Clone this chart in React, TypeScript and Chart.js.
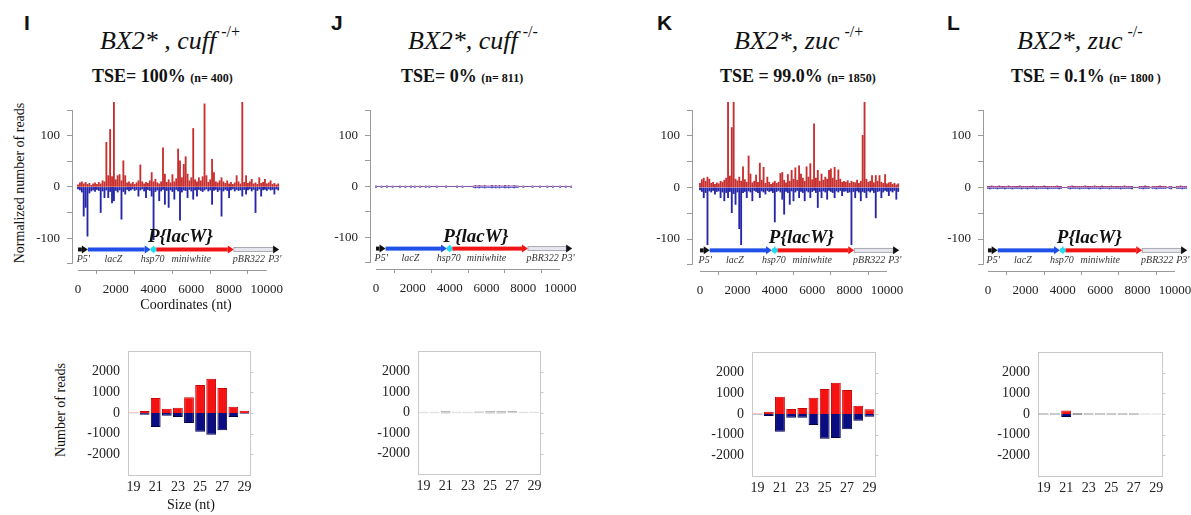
import React, { useEffect, useRef } from 'react';
import { Chart, registerables } from 'chart.js';

Chart.register(...registerables);

const SERIF = '"Liberation Serif", "Times New Roman", serif';
const SANS = '"Liberation Sans", Arial, sans-serif';

// ---------- shared axis data ----------
const BIN_NT = 100; // coverage bin size (nt)
const coordTicks = [0, 2000, 4000, 6000, 8000, 10000];
const coverageTicks = [-150, -100, -50, 0, 50, 100, 150];
const sizeLabels = ['19', '20', '21', '22', '23', '24', '25', '26', '27', '28', '29'];
const readTicks = [-2000, -1000, 0, 1000, 2000];

// ---------- P{lacW} construct map (nt) ----------
const featureStart = [0, 520, 3850, 4150, 8250];
const featureEnd = [520, 3850, 4150, 8250, 10650];
const featureLabels = ["P5'", 'lacZ', 'hsp70', 'miniwhite', 'pBR322', "P3'"];
const featureLabelAt = [280, 1870, 3950, 6000, 9050, 10420];
const constructName = 'P{lacW}';
const constructNameAt = 5420;

// ---------- coverage (normalized reads per 100-nt bin) ----------
const iPlus = [
  4, 8, 10, 6, 9, 5, 7, 3, 6, 8,
  5, 9, 6, 12, 10, 87, 22, 112, 20, 165,
  14, 22, 24, 12, 51, 22, 8, 10, 6, 9,
  5, 8, 12, 43, 10, 6, 9, 7, 12, 28,
  10, 15, 8, 6, 10, 76, 25, 9, 14, 8,
  24, 10, 16, 74, 51, 18, 44, 59, 25, 12,
  18, 114, 14, 10, 18, 12, 20, 162, 22, 9,
  14, 54, 28, 10, 8, 12, 18, 10, 7, 12,
  6, 9, 5, 8, 22, 10, 6, 165, 9, 22,
  7, 10, 15, 6, 8, 5, 18, 7, 9, 15,
  6, 8, 12, 5, 7, 4, 6,
];
const iMinus = [
  -4, -6, -10, -57, -40, -96, -12, -8, -6, -9,
  -5, -7, -50, -8, -21, -6, -21, -9, -31, -27,
  -7, -10, -6, -63, -9, -14, -5, -8, -6, -4,
  -7, -5, -18, -6, -4, -8, -21, -5, -7, -18,
  -103, -9, -6, -27, -8, -5, -34, -7, -40, -6,
  -9, -24, -5, -8, -65, -10, -6, -7, -21, -5,
  -8, -24, -6, -18, -5, -7, -9, -6, -4, -8,
  -6, -34, -7, -5, -9, -6, -57, -8, -5, -7,
  -21, -6, -4, -8, -5, -7, -6, -18, -5, -14,
  -6, -4, -8, -5, -50, -7, -4, -18, -6, -5,
  -7, -4, -6, -5, -14, -4, -6,
];
const jPlus = [
  1, 0, 0, 1, 0, 0, 1, 0, 0, 1,
  0, 0, 0, 1, 0, 0, 1, 0, 0, 1,
  0, 1, 0, 0, 1, 0, 0, 1, 0, 1,
  0, 0, 0, 1, 0, 0, 0, 0, 1, 0,
  0, 0, 0, 0, 1, 0, 0, 1, 0, 0,
  0, 0, 0, 1, 2, 1, 2, 1, 1, 2,
  1, 1, 1, 2, 1, 2, 1, 2, 1, 1,
  2, 1, 2, 1, 1, 2, 1, 1, 0, 0,
  1, 0, 0, 0, 0, 1, 0, 0, 0, 1,
  0, 0, 0, 1, 0, 0, 1, 0, 0, 0,
  1, 0, 0, 1, 0, 0, 1,
];
const jMinus = [
  -2, 0, 0, -2, 0, 0, -2, 0, 0, -2,
  0, 0, 0, -2, 0, 0, -2, 0, 0, -2,
  0, -2, 0, 0, -2, 0, 0, -2, 0, -2,
  0, 0, 0, -2, 0, 0, 0, 0, -2, 0,
  0, 0, 0, 0, -2, 0, 0, -2, 0, 0,
  0, 0, 0, -2, -3, -2, -3, -2, -2, -3,
  -2, -2, -2, -3, -2, -3, -2, -3, -2, -2,
  -3, -2, -3, -2, -2, -3, -2, -2, 0, 0,
  -2, 0, 0, 0, 0, -2, 0, 0, 0, -2,
  0, 0, 0, -2, 0, 0, -2, 0, 0, 0,
  -2, 0, 0, -2, 0, 0, -2,
];
const kPlus = [
  8, 15, 18, 12, 20, 16, 8, 10, 6, 9,
  7, 12, 10, 14, 18, 165, 22, 116, 165, 16,
  13, 20, 12, 40, 15, 10, 61, 26, 9, 12,
  24, 10, 47, 14, 39, 8, 20, 10, 6, 9,
  12, 8, 10, 27, 29, 14, 9, 25, 12, 33,
  16, 38, 14, 42, 26, 18, 12, 40, 20, 46,
  15, 123, 18, 33, 12, 26, 14, 20, 16, 33,
  36, 18, 39, 14, 34, 16, 10, 12, 10, 13,
  8, 12, 10, 9, 14, 8, 12, 101, 165, 16,
  10, 12, 23, 9, 23, 12, 23, 10, 8, 25,
  7, 9, 10, 6, 8, 5, 7,
];
const kMinus = [
  -5, -8, -20, -10, -111, -7, -9, -6, -13, -8,
  -7, -20, -9, -26, -10, -20, -8, -49, -12, -33,
  -9, -80, -111, -10, -8, -20, -7, -9, -26, -6,
  -8, -10, -20, -7, -9, -13, -6, -8, -7, -10,
  -67, -8, -6, -9, -23, -52, -8, -10, -33, -7,
  -26, -9, -6, -20, -8, -10, -26, -7, -9, -20,
  -8, -6, -10, -39, -8, -20, -7, -9, -23, -6,
  -8, -10, -20, -7, -9, -6, -16, -8, -7, -10,
  -9, -111, -8, -20, -7, -9, -26, -8, -10, -20,
  -7, -9, -6, -10, -59, -8, -7, -20, -9, -6,
  -8, -16, -7, -9, -6, -23, -8,
];
const lPlus = [
  2, 2, 3, 2, 2, 2, 3, 2, 2, 2,
  2, 3, 2, 2, 2, 2, 2, 3, 2, 2,
  2, 2, 2, 2, 3, 2, 2, 2, 2, 2,
  3, 2, 2, 2, 2, 2, 2, 3, 2, 2,
  0, 0, 0, 2, 2, 3, 2, 2, 2, 2,
  2, 2, 3, 2, 2, 2, 2, 3, 2, 2,
  2, 3, 2, 2, 2, 2, 3, 2, 2, 2,
  2, 2, 2, 3, 2, 2, 2, 2, 0, 0,
  0, 2, 2, 2, 3, 2, 2, 0, 2, 2,
  2, 2, 3, 2, 2, 2, 0, 2, 2, 0,
  0, 2, 2, 3, 2, 2, 2,
];
const lMinus = [
  -2, -3, -2, -2, -2, -3, -2, -2, -2, -3,
  -2, -2, -2, -3, -2, -2, -2, -2, -3, -2,
  -2, -3, -2, -2, -2, -2, -3, -2, -2, -2,
  -2, -2, -3, -2, -2, -2, -2, -2, -3, -2,
  0, 0, 0, -2, -3, -2, -2, -2, -2, -3,
  -2, -2, -2, -2, -3, -2, -2, -2, -2, -2,
  -3, -2, -2, -2, -2, -3, -2, -2, -2, -2,
  -2, -3, -2, -2, -2, -2, -2, -3, 0, 0,
  0, -2, -2, -3, -2, -2, -2, 0, -2, -2,
  -3, -2, -2, -2, -2, -2, 0, -2, -3, 0,
  0, -2, -2, -2, -3, -2, -2,
];

// ---------- small RNA size distribution (number of reads) ----------
const iSizePlus = [25, 97, 726, 210, 258, 758, 1355, 1661, 1210, 306, 110];
const iSizeMinus = [-12, -80, -677, -130, -194, -484, -903, -1048, -839, -194, -32];
const jSizePlus = [40, 40, 60, 40, 40, 50, 60, 60, 55, 40, 35];
const jSizeMinus = [-35, -35, -45, -35, -35, -40, -45, -45, -40, -35, -30];
const kSizePlus = [30, 113, 839, 242, 290, 790, 1210, 1516, 1161, 403, 226];
const kSizeMinus = [-20, -97, -855, -177, -177, -532, -1194, -1161, -742, -323, -129];
const lSizePlus = [40, 40, 170, 50, 40, 40, 40, 40, 40, 30, 30];
const lSizeMinus = [-35, -35, -150, -45, -35, -35, -35, -35, -35, -25, -25];

// ---------- styles & layout ----------
const featureFill = ['#111111', '#1f50e8', '#20dcef', '#f01414', '#e6e6ee'];
const featureHeadFill = ['#111111', '#1f50e8', null, '#f01414', '#111111'];
const featureOutline = [null, null, null, null, '#9a9aa6'];
const ARROW_Y = -122;
const Y_MIN = -162;
const X_MAX = 10750;

const COV_PAD_T = 20, COV_PAD_R = 26, COV_Y_W = 45, COV_X_H = 34;
const BAR_PAD_T = 22, BAR_PAD_R = 16, BAR_Y_W = 52, BAR_X_H = 26;

const RED = '#f51212', RED_B = '#c80000', BLUE = '#0a0c82', BLUE_B = '#00004a';
const GRAY = '#a3a3a3', GRAY_D = '#858585', GRAY_L = '#c8c8c8';

const panels = [
  {
    key: 'I', plus: iPlus, minus: iMinus, plusColor: '#c83030', minusColor: '#2626a8',
    cov: { l: 72, t: 110, r: 281, b: 270, xMin: -320 },
    bar: { l: 128, t: 351, r: 250, b: 475 },
    sPlus: iSizePlus, sMinus: iSizeMinus,
    sPlusColor: RED, sPlusBorder: RED_B, sMinusColor: BLUE, sMinusBorder: BLUE_B,
  },
  {
    key: 'J', plus: jPlus, minus: jMinus, plusColor: '#8a3a8a', minusColor: '#4040c0',
    cov: { l: 370, t: 110, r: 574, b: 269, xMin: -326 },
    bar: { l: 418, t: 351, r: 540, b: 474 },
    sPlus: jSizePlus, sMinus: jSizeMinus,
    sPlusColor: [GRAY_L, GRAY_L, GRAY, GRAY_L, GRAY_L, GRAY, GRAY, GRAY, GRAY, GRAY_L, GRAY_L],
    sPlusBorder: [GRAY, GRAY, GRAY_D, GRAY, GRAY, GRAY_D, GRAY_D, GRAY_D, GRAY_D, GRAY, GRAY],
    sMinusColor: [GRAY_L, GRAY_L, GRAY, GRAY_L, GRAY_L, GRAY, GRAY, GRAY, GRAY, GRAY_L, GRAY_L],
    sMinusBorder: [GRAY, GRAY, GRAY_D, GRAY, GRAY, GRAY_D, GRAY_D, GRAY_D, GRAY_D, GRAY, GRAY],
  },
  {
    key: 'K', plus: kPlus, minus: kMinus, plusColor: '#c83030', minusColor: '#2626a8',
    cov: { l: 692, t: 110, r: 901, b: 271, xMin: -428 },
    bar: { l: 752, t: 352, r: 875, b: 476 },
    sPlus: kSizePlus, sMinus: kSizeMinus,
    sPlusColor: RED, sPlusBorder: RED_B, sMinusColor: BLUE, sMinusBorder: BLUE_B,
  },
  {
    key: 'L', plus: lPlus, minus: lMinus, plusColor: '#a03070', minusColor: '#3535b8',
    cov: { l: 983, t: 110, r: 1189, b: 271, xMin: -267 },
    bar: { l: 1038, t: 352, r: 1162, b: 476 },
    sPlus: lSizePlus, sMinus: lSizeMinus,
    sPlusColor: [GRAY, GRAY, RED, GRAY_D, GRAY, GRAY, GRAY, GRAY, GRAY, GRAY_L, GRAY_L],
    sPlusBorder: [GRAY_D, GRAY_D, RED_B, GRAY_D, GRAY_D, GRAY_D, GRAY_D, GRAY_D, GRAY_D, GRAY, GRAY],
    sMinusColor: [GRAY, GRAY, BLUE, GRAY_D, GRAY, GRAY, GRAY, GRAY, GRAY, GRAY_L, GRAY_L],
    sMinusBorder: [GRAY_D, GRAY_D, BLUE_B, GRAY_D, GRAY_D, GRAY_D, GRAY_D, GRAY_D, GRAY_D, GRAY, GRAY],
  },
];

// ---------- plugins ----------
const schematicPlugin = {
  id: 'schematic',
  afterDatasetsDraw(chart: any) {
    const { ctx, chartArea } = chart;
    const x = chart.scales.x;
    const y = chart.scales.y;
    ctx.save();
    ctx.strokeStyle = '#9a9a9a';
    ctx.lineWidth = 1;
    ctx.beginPath();
    const ax = Math.round(chartArea.left) + 0.5;
    ctx.moveTo(ax, y.getPixelForValue(coverageTicks[coverageTicks.length - 1]));
    ctx.lineTo(ax, y.getPixelForValue(coverageTicks[0]));
    const by = Math.round(chartArea.bottom) + 0.5;
    ctx.moveTo(x.getPixelForValue(coordTicks[0]), by);
    ctx.lineTo(x.getPixelForValue(coordTicks[coordTicks.length - 1]), by);
    ctx.stroke();

    const yy = y.getPixelForValue(ARROW_Y);
    const H = 2, HL = 6, HH = 4;
    for (let i = 0; i < featureStart.length; i++) {
      const a = x.getPixelForValue(featureStart[i]);
      const b = x.getPixelForValue(featureEnd[i]);
      const head = featureHeadFill[i];
      const se = head ? b - HL : b;
      ctx.fillStyle = featureFill[i];
      ctx.fillRect(a, yy - H, se - a, 2 * H);
      if (featureOutline[i]) {
        ctx.strokeStyle = featureOutline[i];
        ctx.lineWidth = 0.8;
        ctx.strokeRect(a, yy - H, se - a, 2 * H);
      }
      if (head) {
        ctx.fillStyle = head;
        ctx.beginPath();
        ctx.moveTo(se, yy - HH);
        ctx.lineTo(b, yy);
        ctx.lineTo(se, yy + HH);
        ctx.closePath();
        ctx.fill();
      } else {
        ctx.beginPath();
        ctx.moveTo(a, yy);
        ctx.lineTo((a + b) / 2, yy - HH);
        ctx.lineTo(b, yy);
        ctx.lineTo((a + b) / 2, yy + HH);
        ctx.closePath();
        ctx.fill();
      }
    }
    ctx.fillStyle = '#333';
    ctx.font = `italic 10px ${SERIF}`;
    ctx.textAlign = 'center';
    ctx.textBaseline = 'middle';
    featureLabels.forEach((t, i) => ctx.fillText(t, x.getPixelForValue(featureLabelAt[i]), yy + 10));
    ctx.fillStyle = '#111';
    ctx.font = `bold italic 19px ${SERIF}`;
    ctx.textBaseline = 'alphabetic';
    ctx.fillText(constructName, x.getPixelForValue(constructNameAt), yy - 7);
    ctx.restore();
  },
};

const boxPlugin = {
  id: 'box',
  beforeDatasetsDraw(chart: any) {
    const { ctx, chartArea } = chart;
    const y = chart.scales.y;
    ctx.save();
    ctx.strokeStyle = '#c9c9c9';
    ctx.lineWidth = 1;
    const l = Math.round(chartArea.left) + 0.5, r = Math.round(chartArea.right) + 0.5;
    const t = Math.round(chartArea.top) + 0.5, b = Math.round(chartArea.bottom) + 0.5;
    ctx.strokeRect(l, t, r - l, b - t);
    ctx.beginPath();
    readTicks.forEach((v) => {
      const py = Math.round(y.getPixelForValue(v)) + 0.5;
      ctx.moveTo(r, py);
      ctx.lineTo(r + 3, py);
    });
    ctx.stroke();
    ctx.restore();
  },
};

// ---------- chart builders ----------
function coverageConfig(p: any) {
  const pts = (arr: number[]) => arr.map((v, i) => ({ x: i * BIN_NT, y: v }));
  return {
    type: 'bar',
    data: {
      datasets: [
        { data: pts(p.plus), backgroundColor: p.plusColor, barThickness: 1.2, grouped: false, clip: false },
        { data: pts(p.minus), backgroundColor: p.minusColor, barThickness: 1.2, grouped: false, clip: false },
      ],
    },
    options: {
      animation: false,
      responsive: false,
      events: [],
      layout: { padding: { top: COV_PAD_T, right: COV_PAD_R, left: 0, bottom: 0 } },
      plugins: { legend: { display: false }, tooltip: { enabled: false } },
      scales: {
        x: {
          type: 'linear',
          min: p.cov.xMin,
          max: X_MAX,
          offset: false,
          afterBuildTicks: (s: any) => { s.ticks = coordTicks.map((v) => ({ value: v })); },
          afterFit: (s: any) => { s.height = COV_X_H; },
          grid: { display: true, drawOnChartArea: false, drawTicks: true, tickLength: 4, color: '#9a9a9a' },
          border: { display: false },
          ticks: {
            autoSkip: false, maxRotation: 0, padding: 8, color: '#222',
            font: { family: SERIF, size: 13 },
            callback: (v: any) => String(v),
          },
        },
        y: {
          min: Y_MIN,
          max: 150,
          afterBuildTicks: (s: any) => { s.ticks = coverageTicks.map((v) => ({ value: v })); },
          afterFit: (s: any) => { s.width = COV_Y_W; },
          grid: { display: true, drawOnChartArea: false, drawTicks: true, tickLength: 5, color: '#9a9a9a' },
          border: { display: false },
          ticks: {
            autoSkip: false, padding: 7, color: '#222',
            font: { family: SERIF, size: 13 },
            callback: (v: any) => (Number(v) % 100 === 0 ? String(v) : ''),
          },
        },
      },
    },
    plugins: [schematicPlugin],
  };
}

function sizeConfig(p: any) {
  return {
    type: 'bar',
    data: {
      labels: sizeLabels,
      datasets: [
        { data: p.sPlus, backgroundColor: p.sPlusColor, borderColor: p.sPlusBorder, borderWidth: 1, barPercentage: 0.88, categoryPercentage: 1 },
        { data: p.sMinus, backgroundColor: p.sMinusColor, borderColor: p.sMinusBorder, borderWidth: 1, barPercentage: 0.88, categoryPercentage: 1 },
      ],
    },
    options: {
      animation: false,
      responsive: false,
      events: [],
      layout: { padding: { top: BAR_PAD_T, right: BAR_PAD_R, left: 0, bottom: 0 } },
      plugins: { legend: { display: false }, tooltip: { enabled: false } },
      scales: {
        x: {
          stacked: true,
          afterFit: (s: any) => { s.height = BAR_X_H; },
          grid: { display: false, drawTicks: false, tickLength: 0 },
          border: { display: false },
          ticks: {
            autoSkip: false, maxRotation: 0, padding: 4, color: '#222',
            font: { family: SERIF, size: 14 },
            callback: (_v: any, i: number) => (i % 2 === 0 ? sizeLabels[i] : ''),
          },
        },
        y: {
          stacked: true,
          min: -3000,
          max: 3000,
          afterBuildTicks: (s: any) => { s.ticks = readTicks.map((v) => ({ value: v })); },
          afterFit: (s: any) => { s.width = BAR_Y_W; },
          grid: { display: false, drawTicks: false, tickLength: 0 },
          border: { display: false },
          ticks: {
            autoSkip: false, padding: 8, color: '#222',
            font: { family: SERIF, size: 14 },
            callback: (v: any) => String(v),
          },
        },
      },
    },
    plugins: [boxPlugin],
  };
}

function ChartCanvas({ x, y, w, h, make }: any) {
  const ref = useRef<HTMLCanvasElement | null>(null);
  useEffect(() => {
    const chart = new Chart(ref.current as any, make() as any);
    return () => chart.destroy();
  }, []);
  return (
    <canvas
      ref={ref}
      width={w}
      height={h}
      style={{ position: 'absolute', left: x, top: y, width: w, height: h }}
    />
  );
}

function Txt({ x, y, size, children, style }: any) {
  return (
    <div
      style={{
        position: 'absolute', left: x, top: y, fontSize: size, lineHeight: 1,
        fontFamily: SERIF, whiteSpace: 'nowrap', color: '#111', ...style,
      }}
    >
      {children}
    </div>
  );
}

const titles = [
  { letter: 'I', lx: 24, main: 'BX2* , cuff', sup: '-/+', tx: 100, tse: 'TSE= 100%', n: '(n= 400)', sx: 92 },
  { letter: 'J', lx: 331, main: 'BX2*, cuff', sup: '-/-', tx: 408, tse: 'TSE= 0%', n: '(n= 811)', sx: 401 },
  { letter: 'K', lx: 657, main: 'BX2*, zuc', sup: '-/+', tx: 734, tse: 'TSE = 99.0%', n: ' (n= 1850)', sx: 720 },
  { letter: 'L', lx: 947, main: 'BX2*, zuc', sup: '-/-', tx: 1017, tse: 'TSE = 0.1%', n: '(n= 1800 )', sx: 1011 },
];

export default function App() {
  return (
    <div
      style={{
        position: 'absolute', left: 0, top: 0, width: 1191, height: 515,
        overflow: 'hidden', background: '#fff',
      }}
    >
      {titles.map((t) => (
        <React.Fragment key={t.letter}>
          <Txt x={t.lx} y={12} size={21} style={{ fontFamily: SANS, fontWeight: 'bold' }}>{t.letter}</Txt>
          <Txt x={t.tx} y={28} size={26} style={{ fontStyle: 'italic' }}>
            {t.main}
            <span style={{ fontSize: 16, fontStyle: 'normal', position: 'relative', top: -12, marginLeft: 5 }}>{t.sup}</span>
          </Txt>
          <Txt x={t.sx} y={67} size={18} style={{ fontWeight: 'bold' }}>
            {t.tse}{' '}
            <span style={{ fontSize: 12 }}>{t.n}</span>
          </Txt>
        </React.Fragment>
      ))}

      {panels.map((p) => {
        const c = p.cov;
        const b = p.bar;
        return (
          <React.Fragment key={p.key}>
            <ChartCanvas
              x={c.l - COV_Y_W}
              y={c.t - COV_PAD_T}
              w={COV_Y_W + (c.r - c.l) + COV_PAD_R}
              h={COV_PAD_T + (c.b - c.t) + COV_X_H}
              make={() => coverageConfig(p)}
            />
            <ChartCanvas
              x={b.l - BAR_Y_W}
              y={b.t - BAR_PAD_T}
              w={BAR_Y_W + (b.r - b.l) + BAR_PAD_R}
              h={BAR_PAD_T + (b.b - b.t) + BAR_X_H}
              make={() => sizeConfig(p)}
            />
          </React.Fragment>
        );
      })}

      <Txt x={20} y={183} size={14} style={{ transform: 'translate(-50%, -50%) rotate(-90deg)' }}>Normalized number of reads</Txt>
      <Txt x={186} y={305} size={14} style={{ transform: 'translate(-50%, -50%)' }}>Coordinates (nt)</Txt>
      <Txt x={61} y={410} size={14} style={{ transform: 'translate(-50%, -50%) rotate(-90deg)' }}>Number of reads</Txt>
      <Txt x={191} y={505} size={14} style={{ transform: 'translate(-50%, -50%)' }}>Size (nt)</Txt>
    </div>
  );
}
